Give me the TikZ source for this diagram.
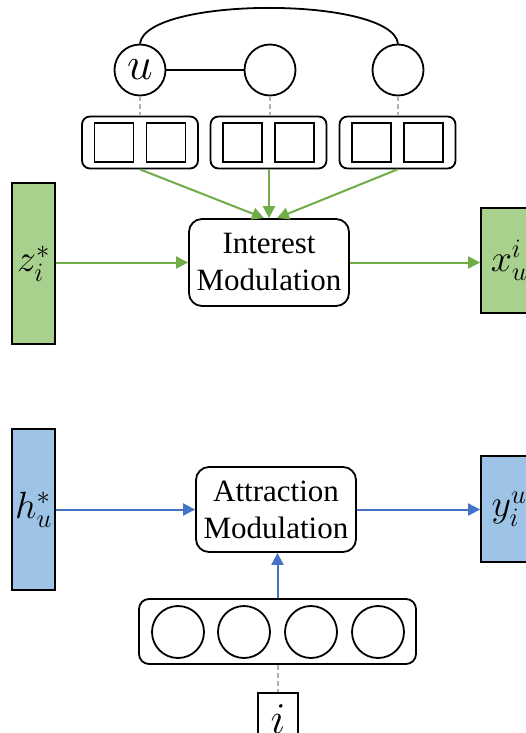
\RequirePackage{fix-cm}
\documentclass[tikz,border=0pt]{standalone}
\usepackage{fontspec}
\setmainfont{Liberation Serif}
\usetikzlibrary{arrows.meta}
\definecolor{gfill}{HTML}{A9D18E}
\definecolor{gline}{HTML}{70AD47}
\definecolor{bfill}{HTML}{9DC3E6}
\definecolor{bline}{HTML}{4472C4}
\begin{document}
\begin{tikzpicture}[x=1pt,y=-1pt,
  ink/.style={line width=1.8pt},
  unode/.style={circle, draw, ink, minimum size=51pt, inner sep=0pt},
  group/.style={draw, ink, rounded corners=8pt, minimum width=116pt, minimum height=52pt, inner sep=0pt},
  cell/.style={draw, ink, minimum size=39pt, inner sep=0pt},
  modbox/.style={draw, ink, rounded corners=13pt, align=center, inner sep=0pt,
    font=\fontsize{31}{37}\selectfont},
  gvec/.style={draw, ink, fill=gfill, inner sep=0pt, font=\fontsize{38}{38}\selectfont},
  bvec/.style={draw, ink, fill=bfill, inner sep=0pt, font=\fontsize{38}{38}\selectfont},
  dashlink/.style={draw=gray!60, dash pattern=on 5pt off 3pt, line width=1.8pt},
  garrow/.style={draw=gline, line width=2pt, -{Triangle[length=12pt,width=12pt]}},
  barrow/.style={draw=bline, line width=2pt, -{Triangle[length=12pt,width=12pt]}}
]
\useasboundingbox (0,0) rectangle (526,733);
\clip (0,0) rectangle (526,733);
\fill[white] (0,0) rectangle (526,733);

% user graph
\node[unode, font=\fontsize{46}{46}\selectfont] (u) at (140,70) {$u$};
\node[unode] (c2) at (270,70) {};
\node[unode] (c3) at (398,70) {};
\draw[ink] (u) -- (c2);
\draw[ink] (u.north) .. controls (146,-4) and (392,-4) .. (c3.north);

% embedding groups with two cells each
\foreach \n/\cx in {b1/140, b2/268.5, b3/397.5} {
  \node[group] (\n) at (\cx,142.5) {};
  \node[cell] (\n l) at ([xshift=-26pt]\n.center) {};
  \node[cell] (\n r) at ([xshift=26pt]\n.center) {};
}
\draw[dashlink] (u.south) -- (u.south |- b1.north);
\draw[dashlink] (c2.south) -- (c2.south |- b2.north);
\draw[dashlink] (c3.south) -- (c3.south |- b3.north);

% interest branch
\node[modbox, minimum width=160pt, minimum height=87pt] (im) at (269,262.5) {Interest\\Modulation};
\coordinate (t1) at ([xshift=-5pt]im.north);
\coordinate (t2) at (im.north);
\coordinate (t3) at ([xshift=8pt]im.north);
\draw[garrow] (b1.south) -- (t1);
\draw[garrow] (b2.south -| t2) -- (t2);
\draw[garrow] (b3.south) -- (t3);

\node[gvec, minimum width=43pt, minimum height=161pt] (z) at (33.5,263.5) {$z_i^*$};
\node[gvec, minimum width=56pt, minimum height=105pt] (x) at (509,260.5) {$x_u^i$};
\draw[garrow] (im.west -| z.east) -- (im.west);
\draw[garrow] (im.east) -- (im.east -| x.west);

% attraction branch
\node[modbox, minimum width=160pt, minimum height=85pt] (am) at (276,509.5) {Attraction\\Modulation};
\node[bvec, minimum width=43pt, minimum height=161pt] (h) at (33.5,509.5) {$h_u^*$};
\node[bvec, minimum width=56pt, minimum height=106pt] (y) at (509,509) {$y_i^u$};
\draw[barrow] (am.west -| h.east) -- (am.west);
\draw[barrow] (am.east) -- (am.east -| y.west);

% item embedding
\node[group, rounded corners=10pt, minimum width=277pt, minimum height=65pt] (g) at (277.5,631.5) {};
\foreach \k/\cx in {1/178, 2/244, 3/311, 4/378}
  \node[unode, minimum size=52pt] (e\k) at (\cx,632) {};
\draw[barrow] (g.north) -- (g.north |- am.south);

\node[draw, ink, minimum width=40pt, minimum height=52pt, inner sep=0pt,
  font=\fontsize{44}{44}\selectfont] (i) at (278,719) {$i$};
\draw[dashlink] (g.south -| i.north) -- (i.north);
\end{tikzpicture}
\end{document}
